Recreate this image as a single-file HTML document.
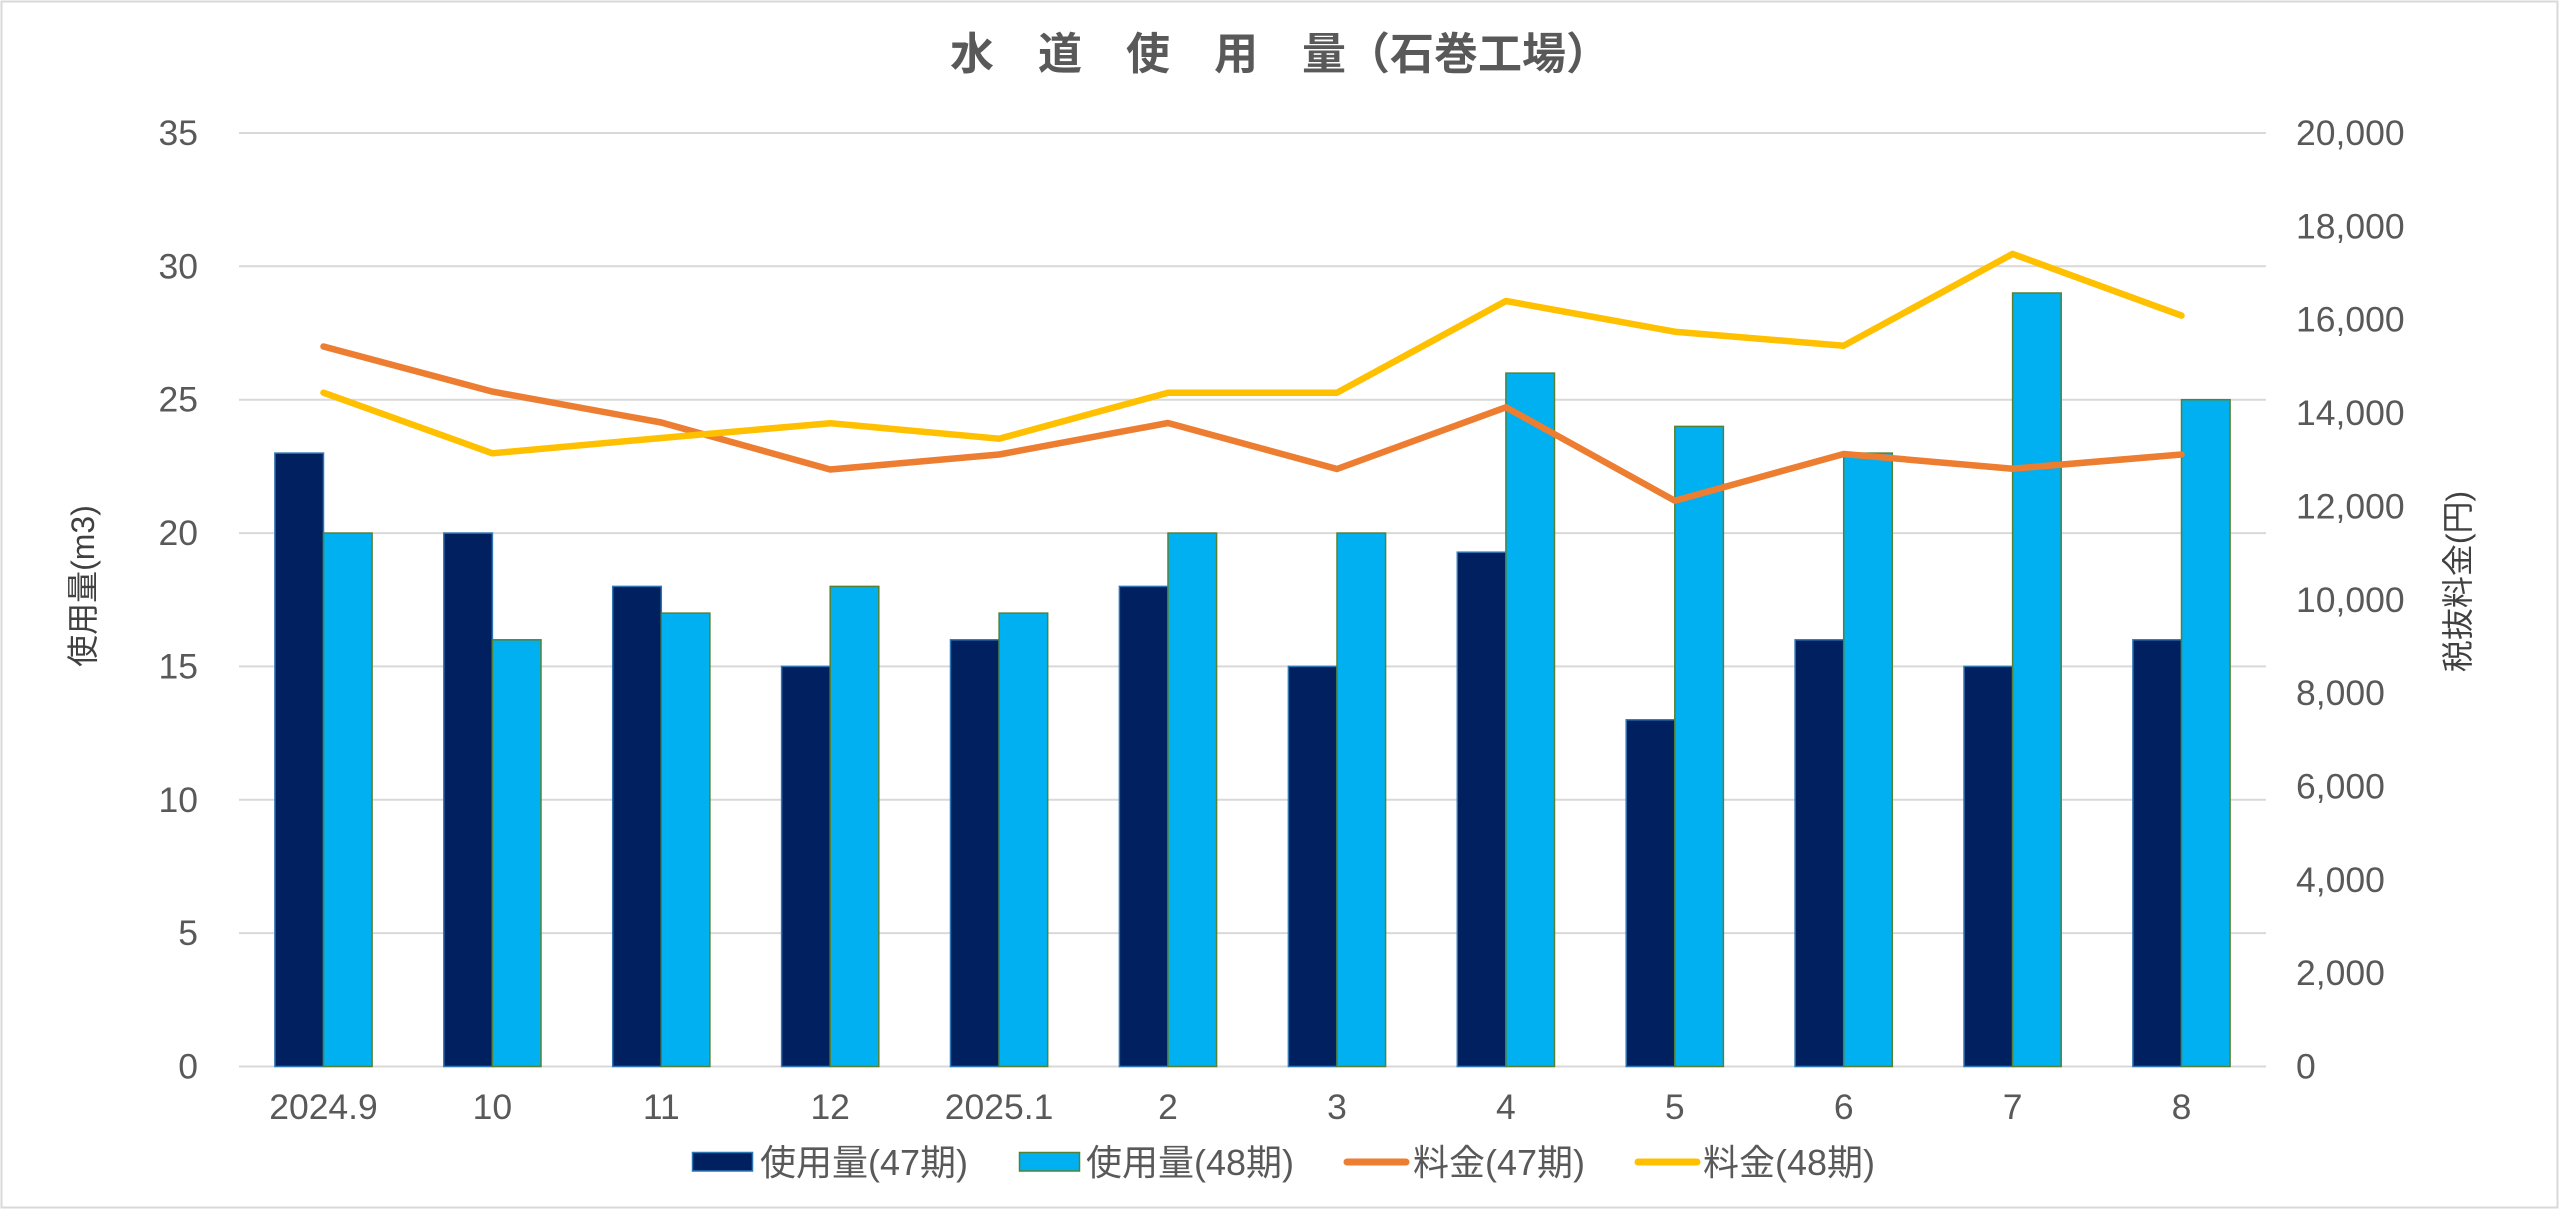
<!DOCTYPE html>
<html>
<head>
<meta charset="utf-8">
<style>
html,body{margin:0;padding:0;background:#fff;}
svg{display:block;}
text{font-family:"Liberation Sans","Noto Sans CJK JP",sans-serif;}
</style>
</head>
<body>
<svg width="2560" height="1210" viewBox="0 0 2560 1210" xmlns="http://www.w3.org/2000/svg">
<rect x="0" y="0" width="2560" height="1210" fill="#ffffff"/>
<rect x="1.5" y="1.5" width="2556" height="1206" fill="none" stroke="#d9d9d9" stroke-width="2"/>

<!-- title -->
<text x="1280" y="69" font-size="44" font-weight="bold" fill="#595959" text-anchor="middle">水　道　使　用　量（石巻工場）</text>

<!-- gridlines -->
<g stroke="#d9d9d9" stroke-width="2">
<line x1="239" y1="133" x2="2266" y2="133"/>
<line x1="239" y1="266.3" x2="2266" y2="266.3"/>
<line x1="239" y1="399.7" x2="2266" y2="399.7"/>
<line x1="239" y1="533.1" x2="2266" y2="533.1"/>
<line x1="239" y1="666.4" x2="2266" y2="666.4"/>
<line x1="239" y1="799.8" x2="2266" y2="799.8"/>
<line x1="239" y1="933.1" x2="2266" y2="933.1"/>
<line x1="239" y1="1066.5" x2="2266" y2="1066.5"/>
</g>

<!-- left tick labels -->
<g font-size="35.5" fill="#595959" text-anchor="end">
<text x="198" y="145">35</text>
<text x="198" y="278.3">30</text>
<text x="198" y="411.7">25</text>
<text x="198" y="545.1">20</text>
<text x="198" y="678.4">15</text>
<text x="198" y="811.8">10</text>
<text x="198" y="945.1">5</text>
<text x="198" y="1078.5">0</text>
</g>

<!-- right tick labels -->
<g font-size="35.5" fill="#595959" text-anchor="start">
<text x="2296" y="145">20,000</text>
<text x="2296" y="238.4">18,000</text>
<text x="2296" y="331.7">16,000</text>
<text x="2296" y="425.1">14,000</text>
<text x="2296" y="518.4">12,000</text>
<text x="2296" y="611.8">10,000</text>
<text x="2296" y="705.1">8,000</text>
<text x="2296" y="798.5">6,000</text>
<text x="2296" y="891.8">4,000</text>
<text x="2296" y="985.2">2,000</text>
<text x="2296" y="1078.5">0</text>
</g>

<!-- axis titles -->
<text transform="translate(94,586) rotate(-90)" font-size="32" fill="#404040" text-anchor="middle">使用量(m3)</text>
<text transform="translate(2469,581.5) rotate(-90)" font-size="32" fill="#404040" text-anchor="middle">税抜料金(円)</text>

<!-- bars 47 -->
<g fill="#002060" stroke="#2e75b6" stroke-width="1.5">
<rect x="274.9" y="453.1" width="48.6" height="613.4"/>
<rect x="443.8" y="533.1" width="48.6" height="533.4"/>
<rect x="612.7" y="586.4" width="48.6" height="480.1"/>
<rect x="781.6" y="666.4" width="48.6" height="400.1"/>
<rect x="950.5" y="639.8" width="48.6" height="426.7"/>
<rect x="1119.4" y="586.4" width="48.6" height="480.1"/>
<rect x="1288.4" y="666.4" width="48.6" height="400.1"/>
<rect x="1457.3" y="552.2" width="48.6" height="514.3"/>
<rect x="1626.2" y="719.8" width="48.6" height="346.7"/>
<rect x="1795.1" y="639.8" width="48.6" height="426.7"/>
<rect x="1964.0" y="666.4" width="48.6" height="400.1"/>
<rect x="2132.9" y="639.8" width="48.6" height="426.7"/>
</g>

<!-- bars 48 -->
<g fill="#00b0f0" stroke="#548235" stroke-width="1.5">
<rect x="323.5" y="533.1" width="48.6" height="533.4"/>
<rect x="492.4" y="639.8" width="48.6" height="426.7"/>
<rect x="661.3" y="613.1" width="48.6" height="453.4"/>
<rect x="830.2" y="586.4" width="48.6" height="480.1"/>
<rect x="999.1" y="613.1" width="48.6" height="453.4"/>
<rect x="1168.0" y="533.1" width="48.6" height="533.4"/>
<rect x="1337.0" y="533.1" width="48.6" height="533.4"/>
<rect x="1505.9" y="373.1" width="48.6" height="693.4"/>
<rect x="1674.8" y="426.4" width="48.6" height="640.1"/>
<rect x="1843.7" y="453.1" width="48.6" height="613.4"/>
<rect x="2012.6" y="293.0" width="48.6" height="773.5"/>
<rect x="2181.5" y="399.7" width="48.6" height="666.8"/>
</g>

<!-- lines -->
<polyline fill="none" stroke="#ed7d31" stroke-width="6.5" stroke-linejoin="round" stroke-linecap="round"
points="323.5,346.5 492.4,391.6 661.3,422.5 830.2,469.5 999.1,454.5 1168,423 1337,469 1505.9,407.3 1674.8,500.7 1843.7,454 2012.6,468.7 2181.5,454.5"/>
<polyline fill="none" stroke="#ffc000" stroke-width="6.5" stroke-linejoin="round" stroke-linecap="round"
points="323.5,392.7 492.4,453.3 661.3,438 830.2,423.2 999.1,438.7 1168,392.7 1337,392.7 1505.9,301 1674.8,331.7 1843.7,345.7 2012.6,253.9 2181.5,315.6"/>

<!-- x labels -->
<g font-size="35.5" fill="#595959" text-anchor="middle">
<text x="323.5" y="1119">2024.9</text>
<text x="492.4" y="1119">10</text>
<text x="661.3" y="1119">11</text>
<text x="830.2" y="1119">12</text>
<text x="999.1" y="1119">2025.1</text>
<text x="1168" y="1119">2</text>
<text x="1337" y="1119">3</text>
<text x="1505.9" y="1119">4</text>
<text x="1674.8" y="1119">5</text>
<text x="1843.7" y="1119">6</text>
<text x="2012.6" y="1119">7</text>
<text x="2181.5" y="1119">8</text>
</g>

<!-- legend -->
<rect x="692.5" y="1152.5" width="60" height="18.5" fill="#002060" stroke="#2e75b6" stroke-width="1.5"/>
<text x="760" y="1175" font-size="36" fill="#595959">使用量(47期)</text>
<rect x="1019.5" y="1152.5" width="60" height="18.5" fill="#00b0f0" stroke="#548235" stroke-width="1.5"/>
<text x="1086" y="1175" font-size="36" fill="#595959">使用量(48期)</text>
<line x1="1347" y1="1162" x2="1406" y2="1162" stroke="#ed7d31" stroke-width="7" stroke-linecap="round"/>
<text x="1413" y="1175" font-size="36" fill="#595959">料金(47期)</text>
<line x1="1638" y1="1162" x2="1697" y2="1162" stroke="#ffc000" stroke-width="7" stroke-linecap="round"/>
<text x="1703" y="1175" font-size="36" fill="#595959">料金(48期)</text>
</svg>
</body>
</html>
